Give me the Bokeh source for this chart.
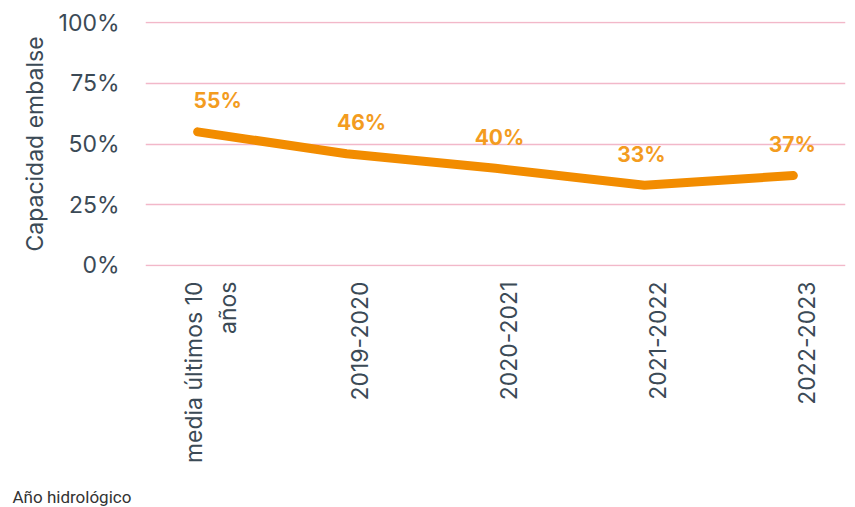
import math
from bokeh.plotting import figure
from bokeh.models import ColumnDataSource, LabelSet, Range1d, FixedTicker, Title
from bokeh.core.properties import value
from bokeh.embed import file_html
from bokeh.resources import INLINE

# Data
categories = ["media últimos 10\naños", "2019-2020", "2020-2021", "2021-2022", "2022-2023"]
values = [55, 46, 40, 33, 37]
value_labels = ["55%", "46%", "40%", "33%", "37%"]
y_ticks = [0, 25, 50, 75, 100]
y_tick_labels = ["0%", "25%", "50%", "75%", "100%"]

# label horizontal nudges (style)
label_dx = [20, 15, 4, -3, -1]

xs = list(range(len(categories)))
src = ColumnDataSource(dict(x=xs, y=values, txt=value_labels, dx=label_dx))

p = figure(width=850, height=505, output_backend="svg", toolbar_location=None,
           x_range=Range1d(-0.35, 4.35), y_range=Range1d(-0.5, 100.5),
           frame_width=700, frame_height=245,
           min_border_left=145, min_border_right=5, min_border_top=21,
           min_border_bottom=2)
p.outline_line_color = None
p.background_fill_color = "white"
p.border_fill_color = "white"

# slightly shifted range used by the category axis labels
p.extra_x_ranges = {"lab": Range1d(-0.35 - 0.09, 4.35 - 0.09)}

p.line("x", "y", source=src, line_color="#f28c00", line_width=9,
       line_cap="round", line_join="round")

labels = LabelSet(x="x", y="y", text="txt", source=src, x_offset="dx", y_offset=31,
                  text_align="center", text_baseline="middle",
                  text_color="#f39c1f", text_font=value("Inter"), text_font_style="bold",
                  text_font_size="21px")
p.add_layout(labels)

# y axis
p.yaxis.ticker = FixedTicker(ticks=y_ticks)
p.yaxis.major_label_overrides = {t: l for t, l in zip(y_ticks, y_tick_labels)}
p.yaxis.major_tick_line_color = None
p.yaxis.minor_tick_line_color = None
p.yaxis.axis_line_color = None
p.yaxis.major_label_text_font = "Inter"
p.yaxis.major_label_text_font_size = "23px"
p.yaxis.major_label_text_color = "#3b4a56"
p.yaxis.major_label_standoff = 20
p.yaxis.axis_label = "Capacidad embalse"
p.yaxis.axis_label_text_font = "Inter"
p.yaxis.axis_label_text_font_style = "normal"
p.yaxis.axis_label_text_font_size = "23px"
p.yaxis.axis_label_text_color = "#3b4a56"
p.yaxis.axis_label_standoff = 7

# x axis
p.xaxis.x_range_name = "lab"
p.xaxis.ticker = FixedTicker(ticks=xs)
p.xaxis.major_label_overrides = {i: c for i, c in zip(xs, categories)}
p.xaxis.major_label_orientation = math.pi / 2
p.xaxis.major_tick_line_color = None
p.xaxis.minor_tick_line_color = None
p.xaxis.axis_line_color = None
p.xaxis.major_label_text_font = "Inter"
p.xaxis.major_label_text_font_size = "23px"
p.xaxis.major_label_text_color = "#3b4a56"
p.xaxis.major_label_standoff = 9

# grid
p.xgrid.grid_line_color = None
p.ygrid.ticker = FixedTicker(ticks=y_ticks)
p.ygrid.grid_line_color = "#f2b8c9"
p.ygrid.grid_line_width = 1.5

# spacer then the axis title at the bottom-left
p.add_layout(Title(text=" ", text_font_size="1px"), "below")
p.add_layout(Title(text="Año hidrológico", align="left", offset=-133,
                   text_font="Roboto", text_font_style="normal",
                   text_font_size="17px", text_color="#333333"), "below")

open("out.html", "w").write(file_html(p, INLINE))
